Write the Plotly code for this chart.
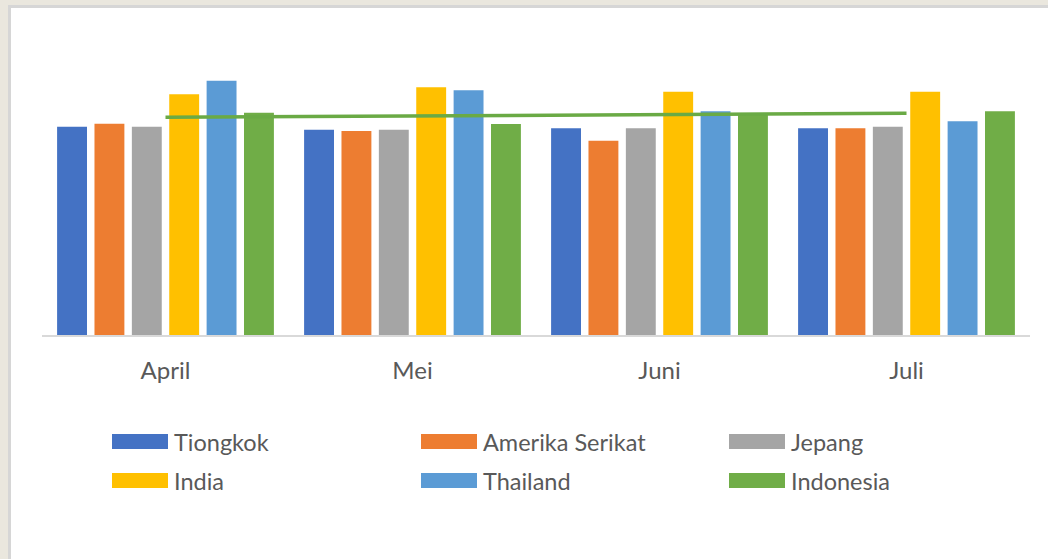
import plotly.graph_objects as go

# ---------------- data (arbitrary units, no y axis shown) ----------------
months = ["April", "Mei", "Juni", "Juli"]
series_names = ["Tiongkok", "Amerika Serikat", "Jepang", "India", "Thailand", "Indonesia"]
tiongkok = [208.3, 205.3, 206.7, 206.7]
amerika_serikat = [211.3, 204.0, 194.3, 206.7]
jepang = [208.3, 205.3, 206.7, 208.3]
india = [240.7, 247.7, 243.3, 243.3]
thailand = [254.3, 244.7, 223.7, 213.7]
indonesia = [222.3, 211.0, 221.0, 223.7]
trend_indonesia = [217.7, 219.0, 220.4, 221.7]

series_values = [tiongkok, amerika_serikat, jepang, india, thailand, indonesia]

# ---------------- style ----------------
colors = ["#4472C4", "#ED7D31", "#A5A5A5", "#FFC000", "#5B9BD5", "#70AD47"]
trend_color = "#6AAA45"
font_family = "Lato, 'Open Sans', 'Liberation Sans', sans-serif"
text_color = "#595959"

FIG_W, FIG_H = 1048, 559
ML, MR, MT, MB = 42, 18, 40, 224
PW = FIG_W - ML - MR
PH = FIG_H - MT - MB


def px_x(px):
    return (px - ML) / PW


def px_y(py):
    return (FIG_H - MB - py) / PH


fig = go.Figure()
for name, vals, col in zip(series_names, series_values, colors):
    fig.add_trace(go.Bar(
        x=months, y=vals, name=name,
        marker=dict(color=col, line=dict(width=0)),
        showlegend=False,
    ))

fig.add_trace(go.Scatter(
    x=months, y=trend_indonesia, mode="lines",
    line=dict(color=trend_color, width=3.5),
    showlegend=False, hoverinfo="skip",
))

shapes = [
    # white chart panel with thin grey border on a beige window background
    dict(type="rect", xref="paper", yref="paper",
         x0=px_x(9.5), x1=px_x(FIG_W + 10), y0=px_y(FIG_H + 10), y1=px_y(6.5),
         fillcolor="white", line=dict(color="#D6D6D6", width=3), layer="below"),
]
annotations = []

# manual legend (wide swatches like the original)
col_x = [112, 421, 729]
row_y = [441.5, 480.5]
sw_w, sw_h = 56, 15
for i, (name, col) in enumerate(zip(series_names, colors)):
    cx = col_x[i % 3]
    cy = row_y[i // 3]
    shapes.append(dict(type="rect", xref="paper", yref="paper",
                       x0=px_x(cx), x1=px_x(cx + sw_w),
                       y0=px_y(cy + sw_h / 2), y1=px_y(cy - sw_h / 2),
                       fillcolor=col, line=dict(width=0)))
    annotations.append(dict(xref="paper", yref="paper",
                            x=px_x(cx + sw_w + 4), y=px_y(cy),
                            xanchor="left", yanchor="middle", showarrow=False,
                            text=name, font=dict(family=font_family, size=23.5, color=text_color)))

fig.update_layout(
    width=FIG_W, height=FIG_H,
    margin=dict(l=ML, r=MR, t=MT, b=MB),
    paper_bgcolor="#EAE7DE",
    plot_bgcolor="rgba(0,0,0,0)",
    barmode="group",
    bargap=0.092,
    bargroupgap=0.2,
    shapes=shapes,
    annotations=annotations,
    font=dict(family=font_family, color=text_color),
    xaxis=dict(
        showline=True, linecolor="#D9D9D9", linewidth=1.5,
        showgrid=False, zeroline=False,
        ticks="outside", ticklen=13, tickcolor="rgba(0,0,0,0)",
        tickfont=dict(family=font_family, size=24, color=text_color),
        range=[-0.5, 3.5],
    ),
    yaxis=dict(
        range=[0, PH], visible=False, showgrid=False, zeroline=False,
    ),
)

fig.write_html(
    "out.html",
    config={"displayModeBar": False},
    post_script="document.body.style.margin='0';document.body.style.padding='0';"
                "document.documentElement.style.overflow='hidden';",
)
